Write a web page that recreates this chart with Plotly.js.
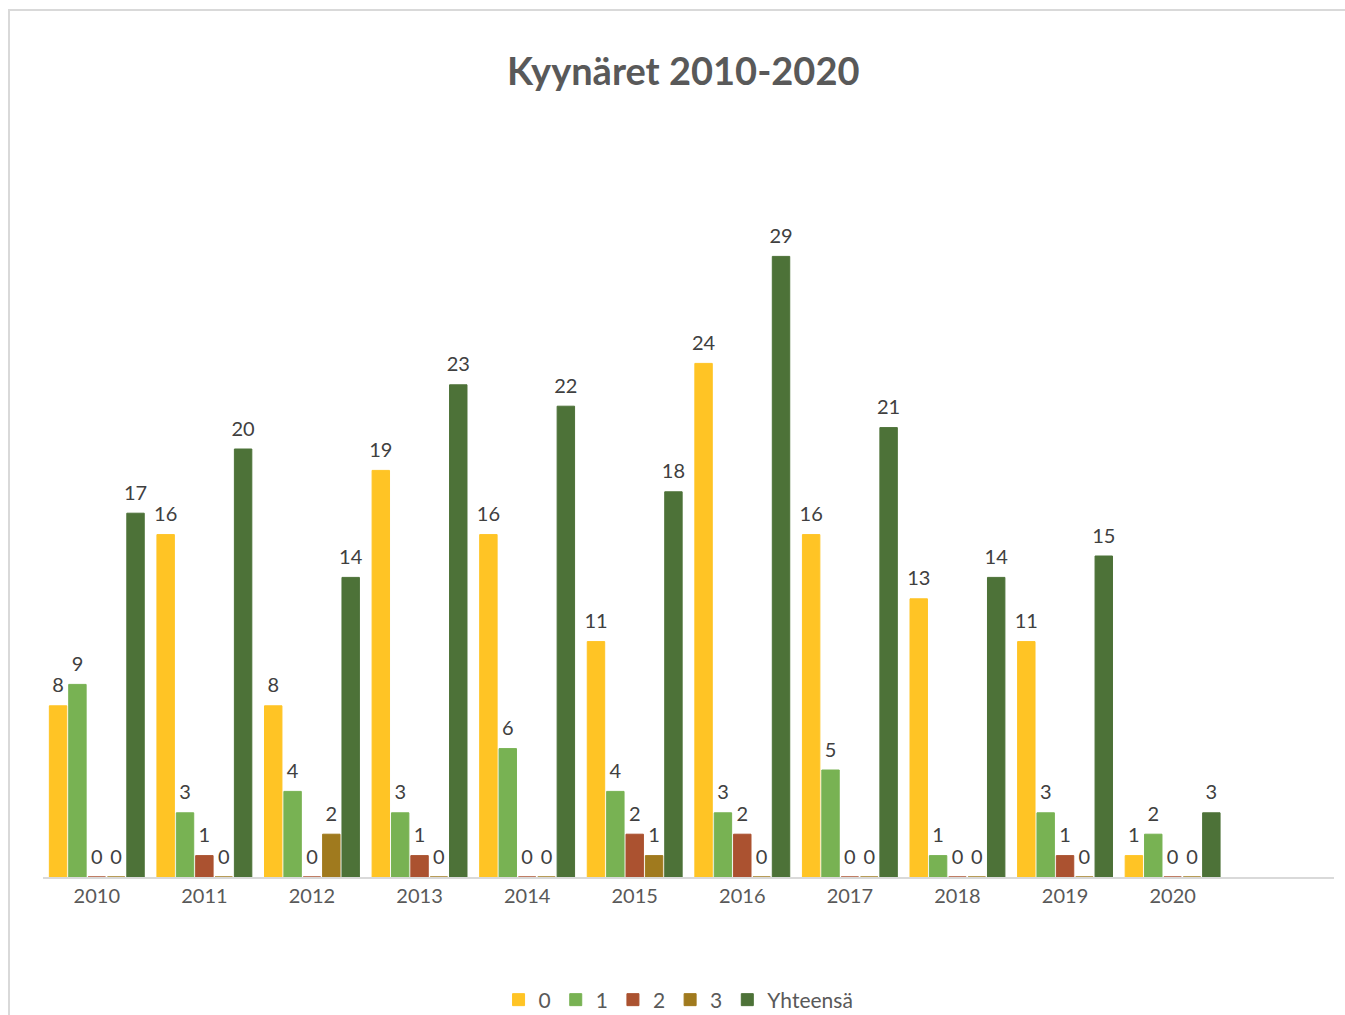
<!DOCTYPE html>
<html>
<head>
<meta charset="utf-8">
<script src="https://cdn.plot.ly/plotly-3.0.1.min.js"></script>
<style>
  html, body { margin: 0; padding: 0; background: #fff; overflow: hidden; }
  #frame { position: absolute; left: 8px; top: 9px; width: 1400px; height: 1100px; border: 2px solid #d9d9d9; pointer-events: none; }
  #chart { position: absolute; left: 0; top: 0; width: 1345px; height: 1015px; }
</style>
</head>
<body>
<div id="chart"></div>
<div id="frame"></div>
<script>
const years = ['2010','2011','2012','2013','2014','2015','2016','2017','2018','2019','2020'];
const s0 = [8,16,8,19,16,11,24,16,13,11,1];
const s1 = [9,3,4,3,6,4,3,5,1,3,2];
const s2 = [0,1,0,1,0,2,2,0,0,1,0];
const s3 = [0,0,2,0,0,1,0,0,0,0,0];
const total = [17,20,14,23,22,18,29,21,14,15,3];

const names = ['0','1','2','3','Yhteensä'];
const colors = ['#FFC425','#78B253','#AB5230','#A07A1E','#4D7238'];
const series = [s0, s1, s2, s3, total];

const FONT = 'Lato, "Open Sans", sans-serif';

const bars = series.map((vals, i) => ({
  type: 'bar',
  name: names[i],
  x: years,
  y: vals,
  offsetgroup: 'g' + i,
  marker: { color: colors[i], line: { color: colors[i], width: 1 } },
  hoverinfo: 'skip'
}));

const labels = series.map((vals, i) => ({
  type: 'scatter',
  mode: 'markers+text',
  name: names[i] + ' labels',
  showlegend: false,
  x: years,
  y: vals,
  offsetgroup: 'g' + i,
  marker: { size: 12, opacity: 0, color: colors[i] },
  text: vals.map(String),
  textposition: 'top center',
  cliponaxis: false,
  textfont: { family: FONT, size: 20, color: '#404040' },
  hoverinfo: 'skip'
}));

const layout = {
  width: 1345,
  height: 1015,
  margin: { l: 43, r: 11, t: 128, b: 138 },
  paper_bgcolor: 'rgba(0,0,0,0)',
  plot_bgcolor: 'rgba(0,0,0,0)',
  barmode: 'group',
  bargap: 0.1,
  bargroupgap: 0.1,
  scattermode: 'group',
  scattergap: 0.1,
  showlegend: true,
  title: {
    text: '<b>Kyynäret 2010-2020</b>',
    font: { family: FONT, size: 38, color: '#595959' },
    x: 0.508, xanchor: 'center',
    y: 1 - 72/1015, yref: 'container', yanchor: 'middle'
  },
  xaxis: {
    type: 'category',
    categoryorder: 'array',
    categoryarray: years,
    range: [-0.5, 11.5],
    showline: true,
    linecolor: '#d9d9d9',
    linewidth: 2,
    ticks: '',
    showgrid: false,
    zeroline: false,
    tickfont: { family: FONT, size: 20, color: '#595959' },
    fixedrange: true
  },
  yaxis: {
    range: [0, 35],
    visible: false,
    showgrid: false,
    zeroline: false,
    fixedrange: true
  },
  legend: {
    orientation: 'h',
    x: 0.5045, xanchor: 'center', xref: 'container',
    y: 1 - 1000/1015, yanchor: 'middle', yref: 'container',
    font: { family: FONT, size: 21, color: '#595959' },
    itemclick: false, itemdoubleclick: false
  }
};

Plotly.newPlot('chart', bars.concat(labels), layout, { displayModeBar: false, staticPlot: true });
</script>
</body>
</html>
